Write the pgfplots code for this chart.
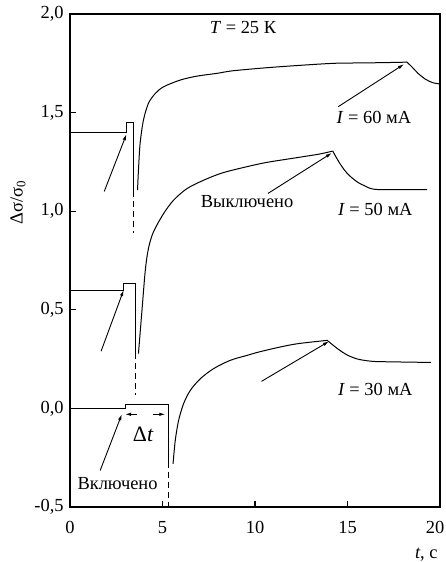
\documentclass[border=0pt]{standalone}
\usepackage{fontspec}
\setmainfont{Liberation Serif}
\usepackage{pgfplots}
\pgfplotsset{compat=1.18}
\usetikzlibrary{arrows.meta}
\begin{document}
\fontsize{18.5}{22}\selectfont
\begin{tikzpicture}[x=1bp,y=1bp]
\path[use as bounding box] (0,0) rectangle (446,562);
\begin{axis}[
  at={(70bp,55bp)}, anchor=south west,
  scale only axis, width=370bp, height=493bp,
  xmin=0, xmax=20, ymin=-0.5, ymax=2,
  axis line style={line width=1.3bp},
  xtick={0,5,10,15,20}, ytick={-0.5,0,0.5,1,1.5,2},
  xticklabels={0,5,10,15,{\hspace*{-10bp}20}},
  yticklabels={{-0,5},{0,0},{0,5},{1,0},{1,5},{2,0}},
  tick align=inside, xtick pos=left, ytick pos=left,
  major tick length=6bp,
  tick style={line width=1.2bp, black},
  /pgf/number format/assume math mode=true,
  ticklabel style={font=\fontsize{18.5}{22}\selectfont},
  xticklabel style={yshift=-8bp},
  clip=false,
  every axis plot/.append style={line width=1bp, black, no markers},
]
% ---- I = 60 mA ----
\addplot[sharp plot] coordinates {(0,1.40) (3.08,1.40) (3.08,1.45) (3.43,1.45) (3.43,1.10)};
\addplot[sharp plot, dashed, dash pattern=on 6bp off 4bp] coordinates {(3.43,1.10) (3.43,0.89)};
\addplot[smooth, tension=0.5] coordinates {(3.65,1.107) (3.70,1.208) (3.79,1.344) (3.97,1.462) (4.24,1.547) (4.61,1.597) (5.06,1.631) (5.96,1.665) (6.87,1.685) (7.95,1.699) (8.8,1.712) (10.7,1.728) (12.5,1.74) (14.3,1.75) (16,1.752) (17.9,1.755) (18.2,1.757)};
\addplot[smooth, tension=0.5] coordinates {(18.2,1.757) (18.5,1.73) (18.8,1.70) (19.2,1.67) (19.6,1.652) (20,1.645)};
% ---- I = 50 mA ----
\addplot[sharp plot] coordinates {(0,0.60) (2.9,0.60) (2.9,0.635) (3.52,0.635) (3.52,0.28)};
\addplot[sharp plot, dashed, dash pattern=on 6bp off 4bp] coordinates {(3.52,0.28) (3.52,0.066)};
\addplot[smooth, tension=0.5] coordinates {(3.70,0.278) (3.89,0.497) (4.07,0.70) (4.24,0.811) (4.51,0.895) (5.06,0.988) (5.60,1.056) (6.33,1.115) (7.22,1.157) (8.13,1.191) (9.0,1.213) (10.5,1.245) (12.3,1.272) (13.5,1.29) (14.2,1.305)};
\addplot[smooth, tension=0.5] coordinates {(14.2,1.305) (14.6,1.24) (15.0,1.19) (15.5,1.15) (15.9,1.13) (16.6,1.11) (19.3,1.11)};
% ---- I = 30 mA ----
\addplot[sharp plot] coordinates {(0,0) (3.0,0) (3.0,0.02) (5.33,0.02) (5.33,-0.27)};
\addplot[sharp plot, dashed, dash pattern=on 6bp off 4bp] coordinates {(5.33,-0.27) (5.33,-0.5)};
\addplot[smooth, tension=0.5] coordinates {(5.57,-0.281) (5.69,-0.162) (5.87,-0.061) (6.14,0.024) (6.50,0.091) (7.05,0.151) (7.77,0.202) (8.67,0.244) (9.58,0.269) (10.21,0.286) (11.3,0.31) (12.3,0.328) (13.9,0.345)};
\addplot[smooth, tension=0.5] coordinates {(13.9,0.345) (14.5,0.30) (15.0,0.27) (15.55,0.25) (16.2,0.24) (16.8,0.237) (19.5,0.233)};
% ---- arrows ----
\begin{scope}[line width=0.9bp, -{Latex[length=6bp,width=3.5bp]}]
\draw (axis cs:1.85,1.10) -- (axis cs:3.05,1.39);
\draw (axis cs:1.68,0.29) -- (axis cs:2.9,0.60);
\draw (axis cs:1.63,-0.315) -- (axis cs:2.8,-0.03);
\draw (axis cs:14.5,1.53) -- (axis cs:18.05,1.745);
\draw (axis cs:10.7,1.09) -- (axis cs:14.15,1.295);
\draw (axis cs:10.35,0.137) -- (axis cs:14.0,0.34);
\draw (axis cs:3.63,-0.03) -- (axis cs:2.98,-0.03);
\draw (axis cs:4.5,-0.03) -- (axis cs:5.15,-0.03);
\end{scope}
% ---- labels ----
\node[anchor=base] at (axis cs:9.35,1.90) {\textit{T} = 25 К};
\node[anchor=base] at (axis cs:16.43,1.447) {\textit{I} = 60 мА};
\node[anchor=base] at (axis cs:16.5,0.98) {\textit{I} = 50 мА};
\node[anchor=base] at (axis cs:16.5,0.066) {\textit{I} = 30 мА};
\node[anchor=base] at (axis cs:9.57,1.02) {Выключено};
\node[anchor=base] at (axis cs:2.57,-0.41) {Включено};
\node[anchor=base, font=\fontsize{22}{26}\selectfont] at (axis cs:3.96,-0.17) {Δ\textit{t}};
\node[rotate=90] at (axis description cs:-0.1405,0.617) {Δσ/σ\textsubscript{0}};
\node[anchor=base] at (axis description cs:0.963,-0.105) {\textit{t}, с};
\end{axis}
\end{tikzpicture}
\end{document}
